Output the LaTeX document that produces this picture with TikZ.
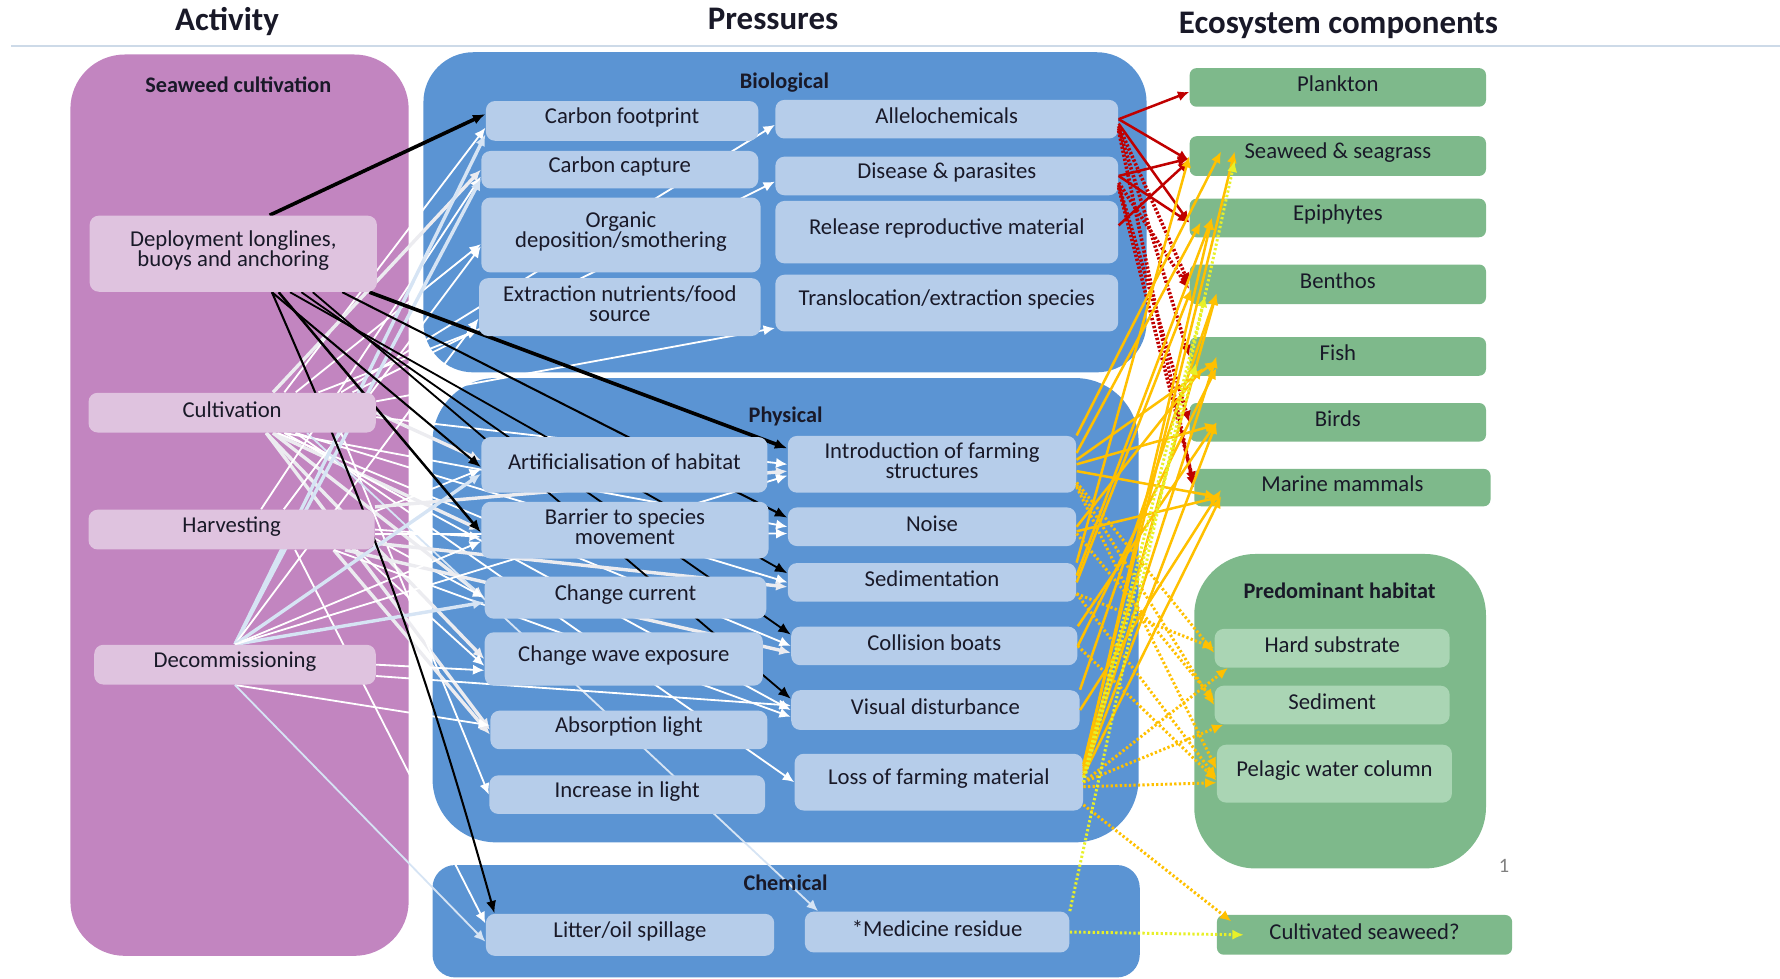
\documentclass[tikz,border=0pt]{standalone}
\usepackage{fontspec}
\setmainfont{Carlito}
\usetikzlibrary{arrows.meta}

\definecolor{purpleC}{RGB}{194,133,192}
\definecolor{actC}{RGB}{223,195,223}
\definecolor{blueC}{RGB}{91,148,211}
\definecolor{pboxC}{RGB}{182,205,234}
\definecolor{greenC}{RGB}{126,185,139}
\definecolor{lgreenC}{RGB}{170,213,180}
\definecolor{redC}{RGB}{192,0,0}
\definecolor{orangeC}{RGB}{255,192,0}
\definecolor{yellowC}{RGB}{232,240,40}
\definecolor{txtC}{RGB}{25,25,40}
\definecolor{ruleC}{RGB}{205,218,232}
\definecolor{wgray}{RGB}{236,236,240}
\definecolor{wblue}{RGB}{214,228,244}

\pgfdeclarelayer{bg}
\pgfdeclarelayer{links}
\pgfdeclarelayer{front}
\pgfsetlayers{bg,links,main,front}

% tight leading for two-line box labels
\newcommand\tightlines{\lineskiplimit=-20pt\relax}

% box given by its corners (#3,#4)-(#5,#6) on a 1568 x 862 grid
\newcommand\mkbox[7]{%
  \pgfmathsetmacro\mkW{(#5-#3)*0.5}%
  \pgfmathsetmacro\mkH{(#6-#4)*0.5}%
  \pgfmathsetmacro\mkX{(#3+#5)/2}%
  \pgfmathsetmacro\mkY{(#4+#6)/2}%
  \node[#1, minimum width=\mkW pt, minimum height=\mkH pt] (#2) at (\mkX,\mkY) {};
  \node[boxtext] (#2-t) at ([yshift=1.5pt]#2.center) {#7};}

\tikzset{
  boxtext/.style={inner sep=0pt, align=center, text=txtC,
    font=\fontsize{10}{9}\selectfont, execute at begin node=\tightlines},
  actbox/.style={fill=actC, rounded corners=4pt, inner sep=0pt},
  pbox/.style={fill=pboxC, rounded corners=4pt, inner sep=0pt},
  ebox/.style={fill=greenC, rounded corners=3pt, inner sep=0pt},
  hbox/.style={fill=lgreenC, rounded corners=4pt, inner sep=0pt},
  hdr/.style={font=\fontsize{14.5}{16}\selectfont\bfseries, text=txtC, inner sep=0pt},
  ttl/.style={font=\fontsize{9.8}{10}\selectfont\bfseries, text=txtC, inner sep=0pt},
  wline/.style={-{Latex[length=5pt,width=4.5pt]}, draw=white, line width=0.8pt},
  gline/.style={wline, draw=wgray, line width=1.5pt},
  lbline/.style={wline, draw=wblue, line width=1.5pt},
  bline/.style={-{Latex[length=5.5pt,width=4.5pt]}, draw=black, line width=0.9pt},
  rline/.style={-{Latex[length=5pt,width=4.5pt]}, draw=redC, line width=1.1pt},
  rdot/.style={rline, line width=1.6pt, dash pattern=on 1pt off 0.8pt},
  oline/.style={-{Latex[length=5pt,width=4.5pt]}, draw=orangeC, line width=1.1pt},
  odot/.style={oline, line width=1.3pt, dash pattern=on 1pt off 1pt},
  ydot/.style={-{Latex[length=5pt,width=4.5pt]}, draw=yellowC, line width=1.3pt, dash pattern=on 1pt off 1pt},
}

\begin{document}
\begin{tikzpicture}[x=0.5pt,y=-0.5pt]
\useasboundingbox (0,0) rectangle (1568,862);

% ---------- group panels ----------
\begin{pgfonlayer}{bg}
  \mkbox{fill=purpleC, rounded corners=24pt, inner sep=0pt}{gActivity}{62}{48}{360}{842}{}
  \mkbox{fill=blueC, rounded corners=22pt, inner sep=0pt}{gBio}{373}{46}{1010}{328}{}
  \mkbox{fill=blueC, rounded corners=28pt, inner sep=0pt}{gPhys}{381}{333}{1003}{742}{}
  \mkbox{fill=blueC, rounded corners=10pt, inner sep=0pt}{gChem}{381}{762}{1004}{861}{}
  \mkbox{fill=greenC, rounded corners=27pt, inner sep=0pt}{gHab}{1052}{488}{1309}{765}{}
  \draw[ruleC, line width=1pt] (10,40.5) -- (1568,40.5);
\end{pgfonlayer}

% ---------- headings ----------
\node[hdr] (hAct) at (200,19) {Activity};
\node[hdr] (hPres) at (681,17) {Pressures};
\node[hdr] (hEco) at (1179,22) {Ecosystem components};
\node[ttl] (tSea) at (210,75) {Seaweed cultivation};
\node[ttl] (tBio) at (691,73) {Biological};
\node[ttl] (tPhys) at (692,367) {Physical};
\node[ttl] (tChem) at (692,778) {Chemical};
\node[ttl] (tHab) at (1180,520) {Predominant habitat};
\node[text=gray, font=\fontsize{9}{10}\selectfont, inner sep=0pt] (pageno) at (1325,763) {1};

% ---------- activities ----------
\mkbox{actbox}{dep}{79}{190}{332}{257}{Deployment longlines,\\buoys and anchoring}
\mkbox{actbox}{cult}{78}{346}{331}{381}{Cultivation}
\mkbox{actbox}{harv}{78}{449}{330}{484}{Harvesting}
\mkbox{actbox}{decom}{83}{568}{331}{603}{Decommissioning}

% ---------- pressures ----------
\mkbox{pbox}{cf}{428}{89}{668}{124}{Carbon footprint}
\mkbox{pbox}{cc}{424}{133}{668}{166}{Carbon capture}
\mkbox{pbox}{od}{424}{174}{670}{240}{Organic\\deposition/smothering}
\mkbox{pbox}{en}{422}{245}{670}{296}{Extraction nutrients/food\\source}
\mkbox{pbox}{al}{683}{88}{985}{122}{Allelochemicals}
\mkbox{pbox}{dp}{683}{138}{985}{172}{Disease \& parasites}
\mkbox{pbox}{rr}{683}{177}{985}{232}{Release reproductive material}
\mkbox{pbox}{tr}{683}{242}{985}{292}{Translocation/extraction species}

\mkbox{pbox}{ah}{424}{385}{676}{434}{Artificialisation of habitat}
\mkbox{pbox}{bs}{424}{442}{677}{492}{Barrier to species\\movement}
\mkbox{pbox}{ccur}{427}{508}{675}{545}{Change current}
\mkbox{pbox}{cw}{427}{557}{672}{604}{Change wave exposure}
\mkbox{pbox}{abl}{432}{626}{676}{660}{Absorption light}
\mkbox{pbox}{il}{431}{683}{674}{717}{Increase in light}
\mkbox{pbox}{ifs}{694}{384}{948}{434}{Introduction of farming\\structures}
\mkbox{pbox}{noi}{694}{447}{948}{481}{Noise}
\mkbox{pbox}{sed}{694}{496}{948}{530}{Sedimentation}
\mkbox{pbox}{col}{697}{552}{949}{586}{Collision boats}
\mkbox{pbox}{vd}{697}{608}{951}{643}{Visual disturbance}
\mkbox{pbox}{lfm}{700}{664}{954}{714}{Loss of farming material}

\mkbox{pbox}{lit}{428}{805}{682}{842}{Litter/oil spillage}
\mkbox{pbox}{med}{709}{803}{942}{839}{*Medicine residue}

% ---------- ecosystem components ----------
\mkbox{ebox}{plank}{1048}{60}{1309}{94}{Plankton}
\mkbox{ebox}{sea}{1048}{120}{1309}{155}{Seaweed \& seagrass}
\mkbox{ebox}{epi}{1048}{175}{1309}{209}{Epiphytes}
\mkbox{ebox}{ben}{1048}{233}{1309}{268}{Benthos}
\mkbox{ebox}{fish}{1048}{297}{1309}{331}{Fish}
\mkbox{ebox}{birds}{1048}{355}{1309}{389}{Birds}
\mkbox{ebox}{mm}{1052}{413}{1313}{446}{Marine mammals}
\mkbox{hbox}{hs}{1070}{554}{1277}{588}{Hard substrate}
\mkbox{hbox}{sedm}{1070}{604}{1277}{638}{Sediment}
\mkbox{hbox}{pel}{1072}{656}{1279}{707}{Pelagic water column}
\mkbox{ebox}{cs}{1072}{806}{1332}{841}{Cultivated seaweed?}

% ---------- activity -> pressure links (under the boxes) ----------
\begin{pgfonlayer}{links}
  % cultivation
  \draw[wline] ([xshift=23pt]cult.north) -- ([yshift=-3pt]cf.west);
  \draw[gline] ([xshift=18pt]cult.north) -- (cc.west);
  \draw[wline] ([xshift=28pt]cult.north) -- ([yshift=-4pt]od.west);
  \draw[wline] ([xshift=38pt]cult.north) -- ([yshift=-10pt]en.west);
  \draw[wline] ([xshift=48pt]cult.north) -- ([yshift=-2.5pt]al.west);
  \draw[wline] ([xshift=53pt]cult.north) -- ([yshift=-2.5pt]dp.west);
  \draw[wline] ([yshift=5pt]cult.east) -- ([yshift=-11pt]tr.west);
  \draw[gline] (cult.east) -- ([yshift=2pt]ah.west);
  \draw[wline] ([yshift=-2pt]cult.east) -- (ifs.west);
  \draw[gline] ([xshift=18pt]cult.south) -- (bs.west);
  \draw[wline] ([xshift=23pt]cult.south) -- (noi.west);
  \draw[gline] ([xshift=18pt]cult.south) -- (ccur.west);
  \draw[wline] ([xshift=28pt]cult.south) -- (sed.west);
  \draw[gline] ([xshift=15pt]cult.south) -- (cw.west);
  \draw[wline] ([xshift=20pt]cult.south) -- (col.west);
  \draw[gline] ([xshift=15pt]cult.south) -- (abl.west);
  \draw[wline] ([xshift=23pt]cult.south) -- (vd.west);
  \draw[wline] ([xshift=28pt]cult.south) -- (lfm.west);
  \draw[wline] ([xshift=48pt]cult.south) -- (il.west);
  \draw[wline, draw=wblue] ([xshift=33pt]cult.south) -- ([xshift=6pt]med.north west);
  % harvesting
  \draw[wline] ([xshift=13pt]harv.north) -- ([yshift=-3pt]cc.west);
  \draw[wline] ([xshift=23pt]harv.north) -- ([yshift=-5pt]od.west);
  \draw[wline] ([yshift=8pt]harv.east) -- ([yshift=-2pt]ah.west);
  \draw[gline] ([yshift=10pt]harv.east) -- ([yshift=-3pt]ifs.west);
  \draw[wline] (harv.east) -- ([yshift=-3pt]bs.west);
  \draw[wline] ([yshift=-2pt]harv.east) -- ([yshift=-3pt]noi.west);
  \draw[wline] ([yshift=-4pt]harv.east) -- (ccur.west);
  \draw[gline] ([yshift=-6pt]harv.east) -- ([yshift=-2pt]sed.west);
  \draw[wline] ([xshift=55pt]harv.south) -- ([yshift=-3pt]cw.west);
  \draw[gline] ([xshift=50pt]harv.south) -- ([yshift=-3pt]col.west);
  \draw[gline] ([xshift=45pt]harv.south) -- ([yshift=-2pt]abl.west);
  \draw[wline] ([xshift=45pt]harv.south) -- ([yshift=-3pt]vd.west);
  \draw[wline] ([xshift=28pt]harv.south) -- ([yshift=5pt]lit.west);
  % decommissioning
  \draw[lbline] (decom.north) -- ([yshift=-6pt]cf.west);
  \draw[lbline] (decom.north) -- ([yshift=-4pt]cc.west);
  \draw[wline] (decom.north) -- ([yshift=-5pt]en.west);
  \draw[lbline] (decom.north) -- ([yshift=-4pt]ah.west);
  \draw[wline] (decom.north) -- ([yshift=-5pt]bs.west);
  \draw[lbline] (decom.north) -- ([yshift=-2pt]ccur.west);
  \draw[wline] (decom.north) -- ([yshift=-5pt]ifs.west);
  \draw[wline] (decom.east) -- ([yshift=-5pt]cw.west);
  \draw[wline] (decom.south) -- ([yshift=2pt]abl.west);
  \draw[wline] ([yshift=-5pt]decom.east) -- ([yshift=2pt]vd.west);
  \draw[wline, draw=wblue] (decom.south) -- ([yshift=-3pt]lit.west);
  % deployment
  \draw[bline, line width=1.6pt] ([xshift=16pt]dep.north) -- ([yshift=3pt]cf.west);
  \draw[bline, line width=1.6pt] ([xshift=60pt]dep.south) -- ([yshift=7pt]ifs.west);
  \draw[bline] ([xshift=48pt]dep.south) -- ([yshift=4pt]noi.west);
  \draw[bline] ([xshift=17pt]dep.south) -- ([yshift=-1pt]ah.west);
  \draw[bline, line width=1.1pt] ([xshift=20pt]dep.south) -- ([yshift=-1pt]bs.west);
  \draw[bline, line width=0.8pt] ([xshift=25pt]dep.south) -- ([yshift=4pt]sed.west);
  \draw[bline, line width=0.8pt] ([xshift=30pt]dep.south) -- ([yshift=5pt]col.west);
  \draw[bline, line width=0.8pt] ([xshift=35pt]dep.south) -- ([yshift=5pt]vd.west);
  \draw[bline] ([xshift=17pt]dep.south) to[bend left=4] ([xshift=4pt]lit.north west);
\end{pgfonlayer}

% ---------- pressure -> ecosystem links (over the boxes) ----------
\begin{pgfonlayer}{front}
  % biological pressures
  \draw[rline] (al.east) -- ([yshift=-2pt]plank.west);
  \draw[rline] (al.east) -- ([yshift=-2pt]sea.west);
  \draw[rline] ([yshift=-2pt]al.east) -- ([yshift=-2pt]epi.west);
  \draw[rline] (dp.east) -- ([yshift=-1pt]sea.west);
  \draw[rline] (dp.east) -- ([yshift=-2pt]epi.west);
  \draw[rline] ([yshift=3pt]rr.east) -- ([yshift=-2pt]sea.west);
  \draw[rdot] ([yshift=-3pt]al.east) -- (ben.west);
  \draw[rdot] ([yshift=-4pt]al.east) -- (fish.west);
  \draw[rdot] ([yshift=-5pt]al.east) -- (mm.west);
  \draw[rdot] ([yshift=-3pt]dp.east) -- ([yshift=-2pt]ben.west);
  \draw[rdot] ([yshift=-4pt]dp.east) -- (birds.west);
  \draw[rdot] ([yshift=-5pt]dp.east) -- ([yshift=2pt]mm.west);
  % physical pressures
  \draw[oline] (ifs.north east) -- ([xshift=14pt,yshift=2pt]sea.west);
  \draw[oline] ([yshift=5pt]ifs.east) -- ([xshift=5pt,yshift=-2pt]epi.west);
  \draw[oline] ([yshift=2pt]ifs.east) -- ([xshift=12pt,yshift=-2pt]fish.west);
  \draw[oline] (ifs.east) -- ([xshift=12pt,yshift=-1pt]birds.west);
  \draw[oline] ([yshift=-3pt]ifs.east) -- ([xshift=10pt,yshift=-4pt]mm.west);
  \draw[oline] (noi.east) -- ([xshift=6pt,yshift=-5pt]fish.west);
  \draw[oline] ([yshift=-2pt]noi.east) -- ([xshift=12pt,yshift=-4pt]mm.west);
  \draw[oline] (sed.north east) -- (sea.west);
  \draw[oline] ([yshift=3pt]sed.east) -- ([xshift=10pt]epi.west);
  \draw[oline] (sed.east) -- ([xshift=1pt,yshift=-2pt]ben.west);
  \draw[oline] (col.east) -- ([xshift=12pt,yshift=-5pt]fish.west);
  \draw[oline] (col.north east) -- ([xshift=12pt]birds.west);
  \draw[oline] (vd.east) -- ([xshift=12pt,yshift=-1pt]mm.west);
  \draw[oline] (vd.north east) -- ([xshift=12pt,yshift=-4pt]ben.west);
  \draw[oline] ([yshift=8pt]lfm.east) -- ([xshift=20pt,yshift=2pt]sea.west);
  \draw[oline] ([yshift=7pt]lfm.east) -- ([xshift=10pt]epi.west);
  \draw[oline] ([yshift=6pt]lfm.east) -- ([xshift=12pt,yshift=-4pt]ben.west);
  \draw[oline] ([yshift=5pt]lfm.east) -- ([xshift=12pt]fish.west);
  \draw[oline] ([yshift=4pt]lfm.east) -- ([xshift=12pt]birds.west);
  \draw[oline] ([yshift=3pt]lfm.east) -- ([xshift=12pt,yshift=-4pt]mm.west);
  \draw[odot] ([yshift=-8pt]ifs.east) -- ([yshift=-2pt]hs.west);
  \draw[odot] ([yshift=-9pt]ifs.east) -- (sedm.west);
  \draw[odot] ([yshift=-10pt]ifs.east) -- ([yshift=2pt]pel.west);
  \draw[odot] ([yshift=-5pt]sed.east) -- (hs.west);
  \draw[odot] ([yshift=-5pt]sed.east) -- ([yshift=-2pt]pel.west);
  \draw[odot] ([yshift=-3pt]noi.east) -- ([yshift=2pt]sedm.west);
  \draw[odot] (col.east) -- ([yshift=-3pt]pel.west);
  \draw[odot] (lfm.east) -- ([xshift=6pt]hs.south west);
  \draw[odot] (lfm.east) -- ([xshift=4pt]sedm.south west);
  \draw[odot] ([yshift=-2pt]lfm.east) -- ([yshift=-4pt]pel.west);
  \draw[odot] ([yshift=-10pt]lfm.east) -- ([xshift=6.5pt,yshift=-3pt]cs.north west);
  \draw[ydot] ([yshift=2pt]lfm.east) -- ([xshift=7pt,yshift=-5pt]ben.west);
  \draw[ydot] (lfm.east) -- ([xshift=3pt,yshift=-3pt]fish.west);
  % chemical pressures
  \draw[ydot] (med.east) -- ([xshift=12pt]cs.west);
  \draw[ydot] (med.north east) -- ([xshift=20pt,yshift=-2pt]sea.west);
\end{pgfonlayer}
\end{tikzpicture}
\end{document}
